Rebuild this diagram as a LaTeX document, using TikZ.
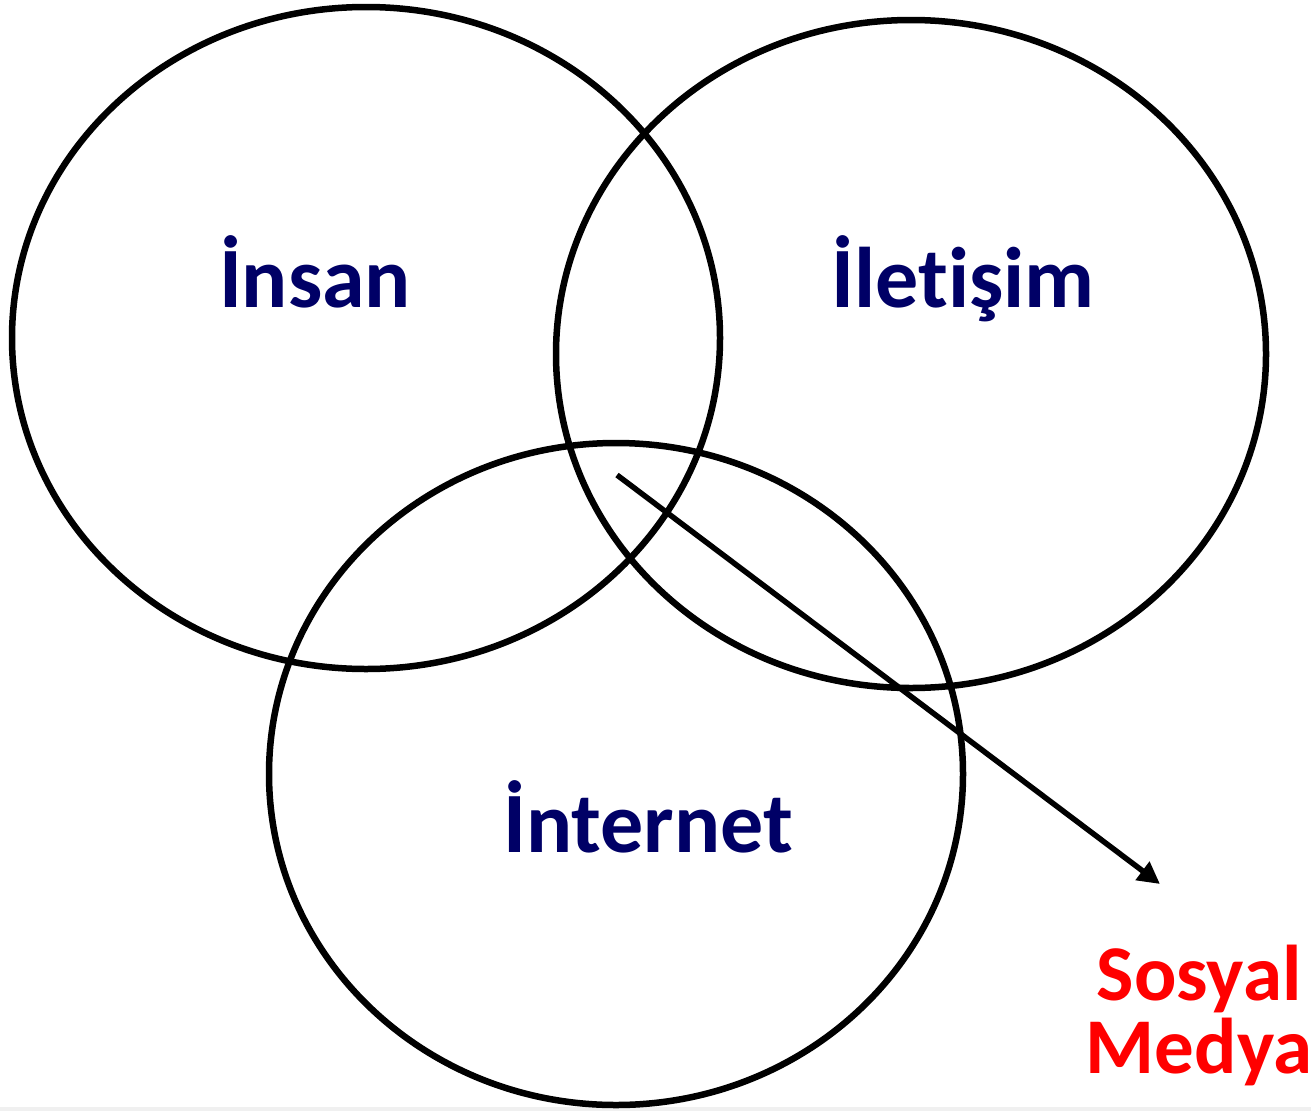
\documentclass[tikz,border=0pt]{standalone}
\usepackage{fontspec}
\setmainfont[Ligatures=NoCommon,RawFeature={-liga;-clig;-calt;-dlig}]{Carlito}
\usetikzlibrary{shapes.geometric,arrows.meta}
\definecolor{navytext}{HTML}{000066}
\definecolor{redtext}{HTML}{FF0000}
\definecolor{stripgray}{HTML}{F0F0F0}
\tikzset{
  venn/.style={draw=black, line width=6.5pt, ellipse, inner sep=0pt},
  label/.style={text=navytext, font=\fontsize{86}{86}\selectfont\bfseries, anchor=base, inner sep=0pt},
  redlabel/.style={font=\fontsize{79}{73}\selectfont\bfseries, align=center, inner sep=0pt, anchor=base},
  arrowline/.style={draw=black, line width=5.5pt, -{Triangle[length=22pt,width=22pt]}}
}
\begin{document}
\begin{tikzpicture}[x=1pt,y=-1pt]
\useasboundingbox (0,0) rectangle (1311,1111);
\fill[stripgray] (0,1107) rectangle (1311,1111);
\node[venn, minimum width=708pt, minimum height=662pt] (insan) at (366,338) {};
\node[venn, minimum width=710pt, minimum height=668pt] (iletisim) at (911,354) {};
\node[venn, minimum width=694pt, minimum height=662pt] (internet) at (616,774) {};
\node[label] (tinsan) at (315,307) {İnsan};
\node[label] (tiletisim) at (963,307) {İletişim};
\node[label] (tinternet) at (648,852) {İnternet};
\coordinate (astart) at (617,475);
\coordinate (aend) at (1160,884);
\draw[arrowline] (astart) -- (aend);
\node[redlabel, text=redtext] (sosyal) at (1199,1073) {Sosyal\\Medya};
\end{tikzpicture}
\end{document}
